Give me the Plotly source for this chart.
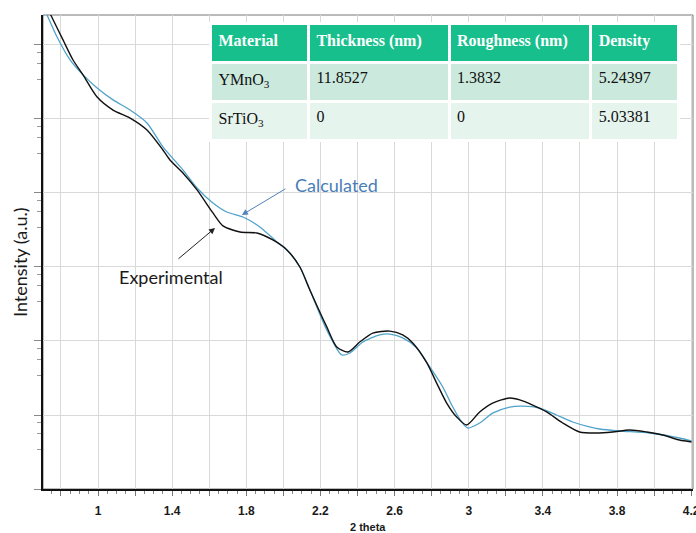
import plotly.graph_objects as go

# ---------------- data ----------------
exp_2theta = [0.714, 0.745, 0.811, 0.865, 0.919, 0.995, 1.081, 1.173, 1.264, 1.350,
              1.388, 1.458, 1.534, 1.620, 1.674, 1.766, 1.857, 1.943, 2.019, 2.089,
              2.143, 2.234, 2.288, 2.348, 2.412, 2.482, 2.574, 2.644, 2.698, 2.774,
              2.827, 2.881, 2.935, 2.989, 3.059, 3.129, 3.221, 3.275, 3.345, 3.420,
              3.507, 3.598, 3.690, 3.776, 3.868, 3.960, 4.046, 4.137, 4.202]
exp_intensity = [3.70e6, 2.54e6, 1.17e6, 6.27e5, 3.94e5, 1.98e5, 1.32e5, 1.03e5, 7.10e4, 3.81e4,
                 2.79e4, 1.86e4, 1.10e4, 5.37e3, 3.60e3, 2.97e3, 2.88e3, 2.32e3, 1.70e3, 1.00e3,
                 489, 155, 83.0, 71.0, 96.8, 128, 136, 121, 94.0, 50.5,
                 27.0, 14.5, 9.40, 7.33, 11.0, 14.5, 17.0, 16.0, 13.6, 11.0,
                 7.80, 5.89, 5.71, 5.89, 6.27, 5.89, 5.37, 4.59, 4.32]

calc_2theta = [0.704, 0.725, 0.779, 0.849, 0.919, 0.995, 1.081, 1.173, 1.264, 1.350,
               1.458, 1.534, 1.620, 1.695, 1.782, 1.873, 1.965, 2.019, 2.089, 2.143,
               2.234, 2.315, 2.359, 2.429, 2.520, 2.574, 2.644, 2.720, 2.790, 2.860,
               2.914, 2.962, 2.995, 3.059, 3.129, 3.221, 3.291, 3.383, 3.474, 3.561,
               3.652, 3.706, 3.814, 3.976, 4.137, 4.202]
calc_intensity = [3.37e6, 2.54e6, 1.28e6, 6.27e5, 3.94e5, 2.62e5, 1.81e5, 1.32e5, 8.83e4, 4.19e4,
                  2.05e4, 1.17e4, 7.33e3, 5.53e3, 4.74e3, 3.48e3, 2.18e3, 1.70e3, 1.00e3, 489,
                  141, 64.7, 68.9, 96.8, 121, 124, 110, 80.4, 44.6, 23.9,
                  12.8, 8.04, 6.67, 7.80, 10.6, 12.8, 13.2, 12.4, 10.0, 8.04,
                  6.89, 6.47, 6.08, 5.71, 4.89, 4.46]

x_tickvals = [0.8, 1.0, 1.2, 1.4, 1.6, 1.8, 2.0, 2.2, 2.4, 2.6, 2.8, 3.0,
              3.2, 3.4, 3.6, 3.8, 4.0, 4.2]
x_ticktext = ["", "1", "", "1.4", "", "1.8", "", "2.2", "", "2.6", "", "3",
              "", "3.4", "", "3.8", "", "4.2"]

table_header = ["Material", "Thickness (nm)", "Roughness (nm)", "Density"]
table_material = ["YMnO<sub>3</sub>", "SrTiO<sub>3</sub>"]
table_thickness = ["11.8527", "0"]
table_roughness = ["1.3832", "0"]
table_density = ["5.24397", "5.03381"]

# ---------------- figure ----------------
fig = go.Figure()

fig.add_trace(go.Scatter(
    x=calc_2theta, y=calc_intensity, mode="lines", name="Calculated",
    line=dict(color="#4FA3CB", width=1.3, shape="spline", smoothing=0.7),
    showlegend=False))
fig.add_trace(go.Scatter(
    x=exp_2theta, y=exp_intensity, mode="lines", name="Experimental",
    line=dict(color="#111111", width=1.4, shape="spline", smoothing=0.7),
    showlegend=False))

serif = "Liberation Serif, Times New Roman, serif"
fig.add_trace(go.Table(
    domain=dict(x=[0.2577, 0.9777], y=[0.60, 0.982]),
    columnwidth=[97.5, 140, 141, 87.5],
    header=dict(values=["<b>%s</b>" % h for h in table_header],
                fill_color="#17BF8D",
                line=dict(color="white", width=3),
                align="left", height=39,
                font=dict(family=serif, size=16, color="white")),
    cells=dict(values=[table_material, table_thickness, table_roughness, table_density],
               fill_color=[["#CBEADD", "#E6F4EE"]] * 4,
               line=dict(color="white", width=3),
               align="left", height=39,
               font=dict(family=serif, size=16, color="#111111"))))

minor_y = [m * 10 ** k for k in range(0, 7) for m in (3.4, 5.7, 7.9)]
narrow = "Liberation Sans Narrow, Liberation Sans, Arial"
sans = "Lato, Carlito, sans-serif"

fig.update_layout(
    width=696, height=533,
    margin=dict(l=43, r=3, t=15, b=44, autoexpand=False),
    paper_bgcolor="white", plot_bgcolor="white",
    xaxis=dict(range=[0.703, 4.21], tickmode="array", tickvals=x_tickvals,
               ticktext=x_ticktext, showgrid=True, gridcolor="#D9D9D9", gridwidth=1,
               zeroline=False, showline=True, linecolor="#111111", linewidth=2,
               ticks="outside", ticklen=5, tickcolor="#777777", ticklabelstandoff=5,
               ticklabeloverflow="allow", automargin=False,
               tickfont=dict(family=narrow, size=12, color="#1A1A1A", weight="bold"),
               minor=dict(dtick=0.05, tick0=0, ticks="outside", ticklen=3,
                          tickcolor="#888888", showgrid=False)),
    yaxis=dict(type="log", range=[0, 6.405], tickmode="array",
               tickvals=[10 ** k for k in range(0, 7)], showticklabels=False,
               showgrid=True, gridcolor="#D9D9D9", gridwidth=1, zeroline=False,
               showline=True, linecolor="#111111", linewidth=2,
               ticks="outside", ticklen=7, tickcolor="#888888",
               minor=dict(tickmode="array", tickvals=minor_y, ticks="outside",
                          ticklen=4, tickcolor="#999999", showgrid=False)),
    shapes=[dict(type="rect", xref="paper", yref="paper", x0=0, x1=1, y0=0, y1=1,
                 line=dict(color="#777777", width=1), layer="below")],
    annotations=[
        dict(x=1.776, y=3.703, xref="x", yref="y", text="", showarrow=True,
             ax=45, ay=-27, arrowhead=2, arrowsize=1.2, arrowwidth=1,
             arrowcolor="#4F81BD"),
        dict(x=2.288, y=4.108, xref="x", yref="y", text="Calculated", showarrow=False,
             font=dict(family=sans, size=18, color="#4A7DB8")),
        dict(x=1.631, y=3.527, xref="x", yref="y", text="", showarrow=True,
             ax=-38, ay=32, arrowhead=2, arrowsize=1.2, arrowwidth=1,
             arrowcolor="#222222"),
        dict(x=1.394, y=2.865, xref="x", yref="y", text="Experimental", showarrow=False,
             font=dict(family=sans, size=18, color="#1A1A1A")),
        dict(x=0.5, y=0, xref="paper", yref="paper", text="2 theta", showarrow=False,
             yanchor="middle", yshift=-38,
             font=dict(family=narrow, size=11, color="#1A1A1A", weight="bold")),
        dict(x=0, y=0.5, xref="paper", yref="paper", text="Intensity (a.u.)",
             showarrow=False, textangle=-90, xanchor="center", xshift=-23, yshift=-10,
             font=dict(family=sans, size=18, color="#1A1A1A")),
    ],
)

fig.write_html("out.html", config={"displayModeBar": False},
               post_script="document.body.style.margin='0';")
